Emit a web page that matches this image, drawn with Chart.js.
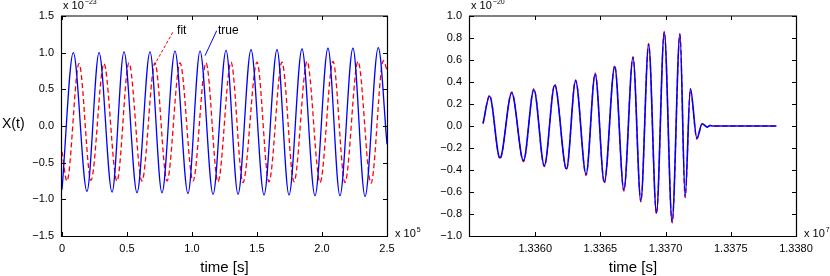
<!DOCTYPE html>
<html><head><meta charset="utf-8">
<script src="https://cdn.jsdelivr.net/npm/chart.js@4/dist/chart.umd.min.js"></script>
<style>
html,body{margin:0;padding:0;background:#fff;}
#wrap{position:relative;width:830px;height:276px;overflow:hidden;background:#fff;}
canvas{position:absolute;top:0;}
</style></head><body>
<div id="wrap">
<canvas id="c1" width="430" height="276" style="left:0"></canvas>
<canvas id="c2" width="415" height="276" style="left:415px"></canvas>
</div>
<script>
// ---- Left panel (x in units of 1e5 s, y in units of 1e-23) ----
const leftTrueX = [0, 0.087, 0.192, 0.285, 0.385, 0.477, 0.577, 0.677, 0.769, 0.869, 0.969, 1.062, 1.162, 1.262, 1.354, 1.454, 1.554, 1.654, 1.746, 1.846, 1.946, 2.046, 2.138, 2.238, 2.331, 2.433, 2.5];
const leftTrueY = [-0.87, 1.00, -0.89, 1.00, -0.90, 1.01, -0.91, 1.01, -0.91, 1.02, -0.92, 1.02, -0.93, 1.03, -0.93, 1.04, -0.94, 1.04, -0.94, 1.05, -0.95, 1.06, -0.95, 1.06, -0.96, 1.07, -0.25];
const leftFitX = [0, 0.038, 0.131, 0.223, 0.323, 0.423, 0.515, 0.615, 0.715, 0.808, 0.908, 1.008, 1.108, 1.200, 1.300, 1.392, 1.500, 1.592, 1.692, 1.785, 1.885, 1.985, 2.085, 2.177, 2.277, 2.377, 2.472, 2.5];
const leftFitY = [-0.35, -0.75, 0.85, -0.74, 0.85, -0.75, 0.86, -0.75, 0.86, -0.75, 0.86, -0.75, 0.86, -0.76, 0.87, -0.77, 0.87, -0.76, 0.87, -0.76, 0.88, -0.77, 0.88, -0.77, 0.88, -0.78, 0.89, 0.76];
const leftXTicks = [0, 0.5, 1.0, 1.5, 2.0, 2.5];
const leftYTicks = [-1.5, -1.0, -0.5, 0, 0.5, 1.0, 1.5];

// ---- Right panel (x in units of 1e7 s, y in units of 1e-20) ----
const rightTrueX = [1.33560, 1.33565, 1.33573, 1.33582, 1.33591, 1.33599, 1.33607, 1.33615, 1.33624, 1.33631, 1.33639, 1.33646, 1.33653, 1.33661, 1.33668, 1.33675, 1.33681, 1.33687, 1.33693, 1.33699, 1.33705, 1.33711, 1.33715, 1.33719, 1.33724, 1.33728, 1.33732, 1.33734, 1.33736, 1.33785];
const rightTrueY = [0.025, 0.27, -0.29, 0.30, -0.315, 0.33, -0.36, 0.37, -0.39, 0.41, -0.44, 0.47, -0.51, 0.54, -0.58, 0.62, -0.68, 0.74, -0.79, 0.85, -0.87, 0.84, -0.64, 0.34, -0.11, 0.02, -0.01, 0.005, 0, 0];
const rightFitX = [1.33560, 1.33565, 1.33573, 1.33582, 1.33591, 1.33599, 1.33607, 1.33615, 1.33624, 1.33631, 1.33639, 1.33646, 1.33653, 1.33661, 1.33668, 1.33675, 1.33681, 1.33687, 1.33693, 1.33699, 1.33705, 1.33711, 1.33715, 1.33719, 1.33724, 1.33728, 1.33732, 1.33734, 1.33736, 1.33785];
const rightFitY = [0.02, 0.28, -0.30, 0.31, -0.325, 0.34, -0.37, 0.38, -0.40, 0.42, -0.45, 0.48, -0.52, 0.55, -0.59, 0.63, -0.69, 0.75, -0.80, 0.86, -0.88, 0.83, -0.65, 0.33, -0.12, 0.02, -0.01, 0.005, 0, 0];
const rightXTicks = [1.3360, 1.3365, 1.3370, 1.3375, 1.3380];
const rightYTicks = [-1.0, -0.8, -0.6, -0.4, -0.2, 0, 0.2, 0.4, 0.6, 0.8, 1.0];

// ---- Labels ----
const seriesNames = ['true', 'fit'];
const xTitle = 'time [s]';
const yTitleLeft = 'X(t)';

const FONT = "'Liberation Sans', Arial, Helvetica, sans-serif";
const BLUE = '#0000ff', RED = '#ff0000';

function pts(xs, ys) { return xs.map((x, i) => ({ x: x, y: ys[i] })); }
function fmtSigned(v, d) {
  if (Math.abs(v) < 1e-9) return (0).toFixed(d);
  return (v < 0 ? '\u2212' : '') + Math.abs(v).toFixed(d);
}

function drawMult(ctx, x, yBase, exp) {
  ctx.save();
  ctx.fillStyle = '#000';
  ctx.textAlign = 'left';
  ctx.textBaseline = 'alphabetic';
  ctx.font = '11px ' + FONT;
  ctx.fillText('x 10', x, yBase);
  const w = ctx.measureText('x 10').width;
  ctx.font = '7px ' + FONT;
  ctx.fillText(exp, x + w + 1, yBase - 5);
  ctx.restore();
}

function framePlugin(cfg) {
  return {
    id: 'frame' + cfg.id,
    afterDatasetsDraw(chart) {
      const ctx = chart.ctx, ca = chart.chartArea;
      const xs = chart.scales.x, ys = chart.scales.y;
      ctx.save();
      ctx.strokeStyle = '#808080';
      ctx.lineWidth = 2;
      ctx.beginPath(); ctx.moveTo(ca.left - 1, ca.top); ctx.lineTo(ca.right + 1, ca.top); ctx.stroke();
      ctx.strokeStyle = '#000';
      ctx.lineWidth = 1.2;
      ctx.beginPath();
      ctx.moveTo(ca.left - 0.5, ca.top); ctx.lineTo(ca.left - 0.5, ca.bottom + 0.5);
      ctx.lineTo(ca.right + 0.5, ca.bottom + 0.5); ctx.lineTo(ca.right + 0.5, ca.top);
      ctx.stroke();
      ctx.lineWidth = 1;
      ctx.beginPath();
      cfg.xTicks.forEach(v => {
        const p = Math.round(xs.getPixelForValue(v)) + 0.5;
        ctx.moveTo(p, ca.bottom); ctx.lineTo(p, ca.bottom - 4);
        ctx.moveTo(p, ca.top); ctx.lineTo(p, ca.top + 4);
      });
      cfg.yTicks.forEach(v => {
        const p = Math.round(ys.getPixelForValue(v)) + 0.5;
        ctx.moveTo(ca.left, p); ctx.lineTo(ca.left + 4, p);
        ctx.moveTo(ca.right, p); ctx.lineTo(ca.right - 4, p);
      });
      ctx.stroke();
      ctx.restore();
    },
    afterDraw(chart) {
      const ctx = chart.ctx, ca = chart.chartArea;
      const xs = chart.scales.x, ys = chart.scales.y;
      ctx.save();
      ctx.fillStyle = '#000';
      ctx.font = '15px ' + FONT;
      ctx.textAlign = 'center';
      ctx.textBaseline = 'alphabetic';
      ctx.fillText(xTitle, (ca.left + ca.right) / 2, 272);
      if (cfg.yTitle) {
        ctx.font = '14px ' + FONT;
        ctx.textAlign = 'left';
        ctx.fillText(cfg.yTitle, 2, 128);
      }
      ctx.restore();
      drawMult(ctx, ca.left + 1, 9, cfg.yExp);
      drawMult(ctx, ca.right + 8, 237, cfg.xExp);
      if (cfg.notes) {
        cfg.notes.forEach(n => {
          ctx.save();
          ctx.strokeStyle = n.color;
          ctx.lineWidth = 1;
          ctx.setLineDash(n.dash);
          ctx.beginPath();
          ctx.moveTo(xs.getPixelForValue(n.line[0]), ys.getPixelForValue(n.line[1]));
          ctx.lineTo(xs.getPixelForValue(n.line[2]), ys.getPixelForValue(n.line[3]));
          ctx.stroke();
          ctx.setLineDash([]);
          ctx.fillStyle = '#000';
          ctx.font = '12px ' + FONT;
          ctx.textAlign = 'left';
          ctx.textBaseline = 'middle';
          ctx.fillText(n.text, xs.getPixelForValue(n.at[0]), ys.getPixelForValue(n.at[1]));
          ctx.restore();
        });
      }
    }
  };
}

function makeChart(cfg) {
  return new Chart(document.getElementById(cfg.id), {
    type: 'line',
    data: {
      datasets: [
        { label: seriesNames[0], data: pts(cfg.tx, cfg.ty), borderColor: BLUE, borderWidth: cfg.bw,
          pointRadius: 0, cubicInterpolationMode: 'monotone', fill: false, order: 0 },
        { label: seriesNames[1], data: pts(cfg.fx, cfg.fy), borderColor: RED, borderWidth: 1.3,
          borderDash: [5, 3], pointRadius: 0, cubicInterpolationMode: 'monotone', fill: false, order: 1 }
      ]
    },
    options: {
      responsive: false, animation: false, devicePixelRatio: 1,
      layout: { padding: { left: 0, right: cfg.padR, top: 16, bottom: 0 } },
      plugins: { legend: { display: false }, tooltip: { enabled: false } },
      scales: {
        x: {
          type: 'linear', min: cfg.xMin, max: cfg.xMax,
          afterBuildTicks: s => { s.ticks = cfg.xTicks.map(v => ({ value: v })); },
          afterFit: s => { s.height = 40; },
          grid: { display: false, drawTicks: false }, border: { display: false },
          ticks: { autoSkip: false, maxRotation: 0, padding: 6, color: '#000',
                   font: { size: 11, family: FONT }, callback: v => cfg.xFmt(v) }
        },
        y: {
          type: 'linear', min: cfg.yMin, max: cfg.yMax,
          afterBuildTicks: s => { s.ticks = cfg.yTicks.map(v => ({ value: v })); },
          afterFit: s => { s.width = cfg.yW; },
          grid: { display: false, drawTicks: false }, border: { display: false },
          ticks: { autoSkip: false, padding: 8, color: '#000',
                   font: { size: 11, family: FONT }, callback: v => fmtSigned(v, 1) }
        }
      }
    },
    plugins: [framePlugin(cfg)]
  });
}

makeChart({
  id: 'c1', tx: leftTrueX, ty: leftTrueY, fx: leftFitX, fy: leftFitY, bw: 1.3,
  xMin: 0, xMax: 2.5, yMin: -1.5, yMax: 1.5, xTicks: leftXTicks, yTicks: leftYTicks,
  xFmt: v => (Math.abs(v) < 1e-9 ? '0' : v.toFixed(1)),
  padR: 43, yW: 62, yTitle: yTitleLeft, yExp: '\u221223', xExp: '5',
  notes: [
    { text: seriesNames[1], color: RED, dash: [3, 2], line: [0.852, 1.278, 0.708, 0.822], at: [0.885, 1.295] },
    { text: seriesNames[0], color: BLUE, dash: [], line: [1.190, 1.300, 1.100, 0.959], at: [1.200, 1.295] }
  ]
});

makeChart({
  id: 'c2', tx: rightTrueX, ty: rightTrueY, fx: rightFitX, fy: rightFitY, bw: 1.6,
  xMin: 1.3355, xMax: 1.3380, yMin: -1.0, yMax: 1.0, xTicks: rightXTicks, yTicks: rightYTicks,
  xFmt: v => v.toFixed(4),
  padR: 34, yW: 55, yTitle: null, yExp: '\u221220', xExp: '7'
});
</script>
</body></html>
